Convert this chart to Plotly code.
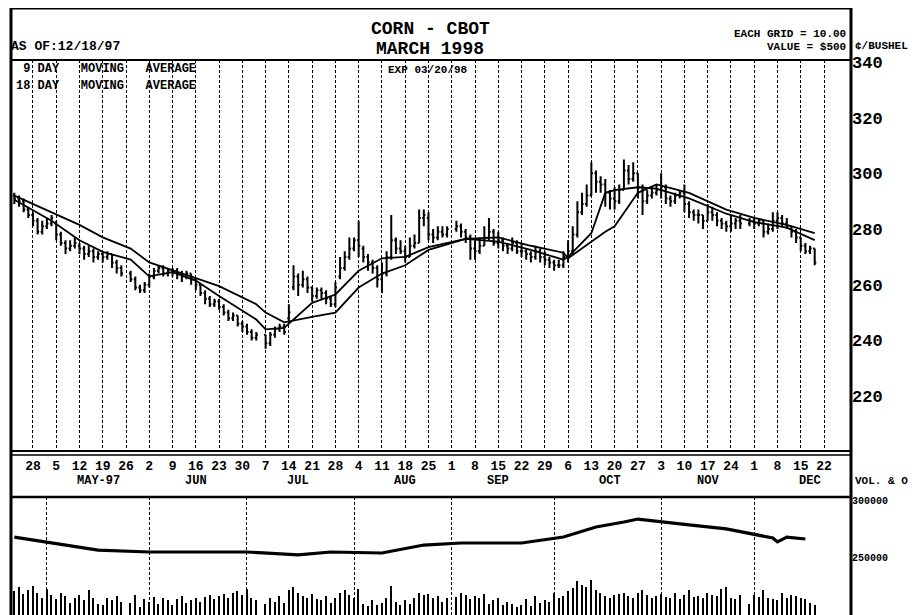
import plotly.graph_objects as go

# ---------------- data ----------------
dates = [
    "1997-04-22", "1997-04-23", "1997-04-24", "1997-04-25",
    "1997-04-28", "1997-04-29", "1997-04-30", "1997-05-01", "1997-05-02",
    "1997-05-05", "1997-05-06", "1997-05-07", "1997-05-08", "1997-05-09",
    "1997-05-12", "1997-05-13", "1997-05-14", "1997-05-15", "1997-05-16",
    "1997-05-19", "1997-05-20", "1997-05-21", "1997-05-22", "1997-05-23",
    "1997-05-27", "1997-05-28", "1997-05-29", "1997-05-30",
    "1997-06-02", "1997-06-03", "1997-06-04", "1997-06-05", "1997-06-06",
    "1997-06-09", "1997-06-10", "1997-06-11", "1997-06-12", "1997-06-13",
    "1997-06-16", "1997-06-17", "1997-06-18", "1997-06-19", "1997-06-20",
    "1997-06-23", "1997-06-24", "1997-06-25", "1997-06-26", "1997-06-27",
    "1997-06-30", "1997-07-01", "1997-07-02", "1997-07-03",
    "1997-07-07", "1997-07-08", "1997-07-09", "1997-07-10", "1997-07-11",
    "1997-07-14", "1997-07-15", "1997-07-16", "1997-07-17", "1997-07-18",
    "1997-07-21", "1997-07-22", "1997-07-23", "1997-07-24", "1997-07-25",
    "1997-07-28", "1997-07-29", "1997-07-30", "1997-07-31", "1997-08-01",
    "1997-08-04", "1997-08-05", "1997-08-06", "1997-08-07", "1997-08-08",
    "1997-08-11", "1997-08-12", "1997-08-13", "1997-08-14", "1997-08-15",
    "1997-08-18", "1997-08-19", "1997-08-20", "1997-08-21", "1997-08-22",
    "1997-08-25", "1997-08-26", "1997-08-27", "1997-08-28", "1997-08-29",
    "1997-09-02", "1997-09-03", "1997-09-04", "1997-09-05",
    "1997-09-08", "1997-09-09", "1997-09-10", "1997-09-11", "1997-09-12",
    "1997-09-15", "1997-09-16", "1997-09-17", "1997-09-18", "1997-09-19",
    "1997-09-22", "1997-09-23", "1997-09-24", "1997-09-25", "1997-09-26",
    "1997-09-29", "1997-09-30", "1997-10-01", "1997-10-02", "1997-10-03",
    "1997-10-06", "1997-10-07", "1997-10-08", "1997-10-09", "1997-10-10",
    "1997-10-13", "1997-10-14", "1997-10-15", "1997-10-16", "1997-10-17",
    "1997-10-20", "1997-10-21", "1997-10-22", "1997-10-23", "1997-10-24",
    "1997-10-27", "1997-10-28", "1997-10-29", "1997-10-30", "1997-10-31",
    "1997-11-03", "1997-11-04", "1997-11-05", "1997-11-06", "1997-11-07",
    "1997-11-10", "1997-11-11", "1997-11-12", "1997-11-13", "1997-11-14",
    "1997-11-17", "1997-11-18", "1997-11-19", "1997-11-20", "1997-11-21",
    "1997-11-24", "1997-11-25", "1997-11-26", "1997-11-28",
    "1997-12-01", "1997-12-02", "1997-12-03", "1997-12-04", "1997-12-05",
    "1997-12-08", "1997-12-09", "1997-12-10", "1997-12-11", "1997-12-12",
    "1997-12-15", "1997-12-16", "1997-12-17", "1997-12-18",
]

opens = [
    292, 291, 290, 287,
    285, 283, 279, 281, 282,
    282, 278, 275, 273, 274,
    274, 273, 271, 272, 270,
    271, 270, 271, 268, 266,
    264, 262, 259, 258,
    260, 263, 265, 266, 264,
    265, 265, 264, 263, 264,
    262, 260, 257, 255, 253,
    254, 252, 250, 248, 249,
    246, 245, 243, 241,
    242, 239, 242, 244, 245,
    248, 259, 263, 260, 262,
    259, 256, 258, 257, 255,
    253, 263, 266, 270, 273,
    276, 273, 270, 268, 266,
    262, 264, 270, 276, 273,
    272, 270, 274, 275, 284,
    284, 278, 277, 279, 278,
    280, 281, 279, 277,
    273, 272, 274, 277, 279,
    275, 276, 274, 273, 275,
    272, 272, 271, 270, 272,
    270, 269, 268, 267, 267,
    270, 272, 278, 286, 289,
    292, 300, 297, 296, 293,
    291, 290, 294, 301, 298,
    300, 295, 290, 292, 293,
    294, 295, 291, 290, 292,
    293, 289, 286, 285, 285,
    283, 286, 285, 283, 282,
    281, 282, 283, 282,
    283, 282, 283, 279, 280,
    283, 284, 282, 281, 279,
    277, 274, 272, 273,
]

highs = [
    293, 292, 291, 288,
    286, 284, 283, 284, 285,
    283, 279, 276, 276, 277,
    275, 274, 274, 273, 272,
    272, 272, 271, 269, 267,
    265, 263, 260, 261,
    264, 266, 267, 267, 266,
    266, 266, 265, 265, 264,
    262, 260, 258, 256, 255,
    255, 253, 251, 250, 249,
    247, 246, 244, 243,
    242, 243, 245, 246, 246,
    253, 267, 264, 265, 263,
    259, 259, 259, 258, 256,
    261, 270, 272, 277, 277,
    283, 274, 271, 269, 267,
    268, 272, 285, 277, 276,
    274, 277, 278, 287, 287,
    286, 280, 281, 281, 281,
    283, 282, 280, 278,
    276, 277, 281, 284, 280,
    279, 277, 275, 277, 276,
    275, 273, 272, 274, 273,
    272, 270, 269, 269, 272,
    276, 281, 290, 293, 296,
    304, 301, 299, 298, 294,
    295, 296, 305, 303, 304,
    300, 296, 294, 295, 296,
    300, 296, 292, 293, 294,
    296, 290, 287, 287, 285,
    289, 288, 286, 284, 283,
    285, 284, 285, 284,
    284, 284, 283, 282, 286,
    286, 285, 284, 281, 280,
    277, 275, 274, 273,
]

lows = [
    289, 288, 286, 284,
    281, 278, 278, 280, 281,
    276, 274, 271, 272, 273,
    271, 269, 270, 268, 269,
    268, 269, 266, 264, 263,
    261, 258, 257, 257,
    259, 262, 264, 263, 263,
    263, 262, 261, 262, 260,
    258, 256, 253, 252, 252,
    251, 249, 247, 247, 245,
    243, 242, 240, 240,
    237, 238, 241, 243, 242,
    246, 258, 256, 259, 257,
    254, 255, 255, 253, 252,
    252, 262, 265, 269, 272,
    270, 268, 265, 264, 259,
    257, 263, 269, 271, 271,
    268, 270, 273, 275, 281,
    276, 275, 276, 277, 277,
    279, 277, 275, 269,
    269, 271, 274, 276, 274,
    273, 272, 271, 272, 271,
    270, 269, 268, 269, 268,
    267, 266, 265, 266, 266,
    268, 271, 277, 285, 288,
    292, 293, 293, 288, 287,
    287, 289, 294, 296, 297,
    291, 285, 289, 291, 292,
    291, 289, 288, 289, 291,
    286, 284, 283, 282, 280,
    283, 283, 281, 280, 279,
    279, 280, 280, 281,
    280, 281, 277, 278, 279,
    280, 281, 280, 277, 275,
    272, 271, 271, 267,
]

closes = [
    291, 290, 287, 285,
    283, 279, 281, 282, 284,
    278, 275, 273, 274, 275,
    273, 271, 272, 270, 271,
    270, 271, 268, 266, 264,
    262, 259, 258, 260,
    263, 265, 266, 264, 265,
    265, 264, 263, 264, 262,
    260, 257, 255, 253, 254,
    252, 250, 248, 249, 246,
    245, 243, 241, 242,
    239, 242, 244, 245, 243,
    250, 263, 260, 262, 259,
    256, 258, 257, 255, 253,
    259, 266, 270, 273, 276,
    274, 270, 268, 266, 262,
    264, 270, 276, 273, 272,
    270, 274, 275, 284, 285,
    278, 277, 279, 278, 280,
    281, 279, 277, 273,
    272, 274, 277, 279, 275,
    276, 274, 273, 275, 272,
    272, 271, 270, 272, 270,
    269, 268, 267, 267, 270,
    272, 278, 286, 289, 292,
    300, 297, 296, 293, 291,
    290, 294, 301, 298, 300,
    295, 290, 292, 293, 294,
    295, 291, 290, 292, 293,
    289, 286, 285, 285, 283,
    286, 285, 283, 282, 281,
    282, 283, 282, 283,
    282, 283, 279, 280, 283,
    284, 282, 281, 279, 277,
    274, 272, 273, 268,
]

volumes = [
    42000, 50000, 38000, 45000,
    52000, 40000, 30000, 46000, 35000,
    28000, 40000, 33000, 22000, 30000,
    36000, 26000, 44000, 30000, 20000,
    18000, 30000, 26000, 34000, 24000,
    22000, 36000, 15000, 28000,
    24000, 32000, 20000, 30000, 26000,
    18000, 28000, 34000, 22000, 26000,
    30000, 24000, 32000, 36000, 28000,
    34000, 38000, 30000, 40000, 42000,
    36000, 46000, 30000, 26000,
    20000, 30000, 24000, 34000, 22000,
    44000, 50000, 40000, 34000, 30000,
    38000, 28000, 26000, 34000, 22000,
    30000, 40000, 44000, 36000, 30000,
    46000, 20000, 16000, 26000, 18000,
    22000, 30000, 52000, 24000, 18000,
    26000, 20000, 30000, 40000, 36000,
    38000, 30000, 34000, 24000, 30000,
    32000, 40000, 36000, 28000,
    34000, 30000, 38000, 20000, 26000,
    30000, 18000, 24000, 20000, 14000,
    18000, 28000, 16000, 34000, 22000,
    26000, 24000, 40000, 30000, 34000,
    42000, 48000, 60000, 54000, 50000,
    62000, 44000, 40000, 34000, 30000,
    36000, 38000, 40000, 34000, 30000,
    40000, 44000, 36000, 30000, 34000,
    38000, 32000, 30000, 40000, 28000,
    36000, 44000, 32000, 34000, 30000,
    40000, 36000, 34000, 46000, 50000,
    30000, 28000, 36000, 20000,
    36000, 32000, 44000, 30000, 28000,
    26000, 40000, 30000, 36000, 34000,
    30000, 28000, 22000, 18000,
]

# moving averages at selected dates
ma_dates = ["1997-04-22", "1997-05-02", "1997-05-12", "1997-05-19", "1997-05-27",
            "1997-06-02", "1997-06-09", "1997-06-16", "1997-06-23", "1997-07-03",
            "1997-07-07", "1997-07-11", "1997-07-21", "1997-07-28", "1997-08-04",
            "1997-08-11", "1997-08-18", "1997-08-25", "1997-09-04", "1997-09-15",
            "1997-09-24", "1997-10-03", "1997-10-06", "1997-10-13", "1997-10-16",
            "1997-10-20", "1997-10-27", "1997-10-31", "1997-11-11", "1997-11-21",
            "1997-12-01", "1997-12-10", "1997-12-18"]
ma9 = [290.5, 283, 276, 271.8, 269,
       263, 264.5, 261.5, 256, 247.5,
       244, 244.5, 253.5, 256.5, 265,
       269.5, 270, 273.5, 276.5, 275.5,
       272.5, 269, 270, 278.5, 293,
       294, 295, 294.5, 291, 285.5,
       282.5, 280.5, 276]
ma18 = [292, 286, 281.5, 277, 273,
        268, 265.3, 262.4, 259.5, 253,
        250, 246.5, 248.5, 250, 259,
        264, 267, 272.5, 276.5, 277,
        274, 271.5, 269.5, 275.5, 279,
        281, 293, 296, 293, 287,
        284, 281.5, 278.5]

# open interest
oi_dates = ["1997-04-22", "1997-05-02", "1997-05-16", "1997-06-02", "1997-07-01",
            "1997-07-16", "1997-07-25", "1997-08-11", "1997-08-22", "1997-09-03",
            "1997-09-22", "1997-10-03", "1997-10-14", "1997-10-22", "1997-10-27",
            "1997-11-11", "1997-11-21", "1997-12-05", "1997-12-08", "1997-12-10",
            "1997-12-16"]
open_interest = [267500, 262300, 256100, 254400, 254400,
                 251800, 254400, 253500, 260500, 262300,
                 262300, 267500, 276300, 280700, 283300,
                 278100, 274600, 266700, 263200, 267500,
                 265800]

week_ticks = ["1997-04-28", "1997-05-05", "1997-05-12", "1997-05-19", "1997-05-26",
              "1997-06-02", "1997-06-09", "1997-06-16", "1997-06-23", "1997-06-30",
              "1997-07-07", "1997-07-14", "1997-07-21", "1997-07-28", "1997-08-04",
              "1997-08-11", "1997-08-18", "1997-08-25", "1997-09-01", "1997-09-08",
              "1997-09-15", "1997-09-22", "1997-09-29", "1997-10-06", "1997-10-13",
              "1997-10-20", "1997-10-27", "1997-11-03", "1997-11-10", "1997-11-17",
              "1997-11-24", "1997-12-01", "1997-12-08", "1997-12-15", "1997-12-22"]
week_labels = ["28", "5", "12", "19", "26", "2", "9", "16", "23", "30", "7", "14",
               "21", "28", "4", "11", "18", "25", "1", "8", "15", "22", "29", "6",
               "13", "20", "27", "3", "10", "17", "24", "1", "8", "15", "22"]
month_labels = ["MAY-97", "JUN", "JUL", "AUG", "SEP", "OCT", "NOV", "DEC"]
month_pos = ["1997-05-16", "1997-06-16", "1997-07-16", "1997-08-18",
             "1997-09-15", "1997-10-17", "1997-11-17", "1997-12-17"]
price_ticks = [220, 240, 260, 280, 300, 320, 340]
oi_ticks = [250000, 300000]

# ---------------- figure ----------------
FONT = "Liberation Mono"
OFF = 8                      # the page places the figure 8px in from the corner
W, H = 916 - OFF, 615 - OFF
ML, MR, MT, MB = 12 - OFF, 65, 60 - OFF, 0
PW, PH = W - ML - MR, H - MT - MB


def px_x(X):
    """page pixel -> paper x"""
    return (X - OFF - ML) / PW


def px_y(Y):
    """page pixel -> paper y"""
    return (H - MB - (Y - OFF)) / PH


fig = go.Figure()

fig.add_trace(go.Ohlc(
    x=dates, open=opens, high=highs, low=lows, close=closes,
    increasing=dict(line=dict(color="black", width=2)),
    decreasing=dict(line=dict(color="black", width=2)),
    tickwidth=0.35, xaxis="x", yaxis="y", showlegend=False, hoverinfo="skip"))

fig.add_trace(go.Scatter(x=ma_dates, y=ma9, mode="lines",
                         line=dict(color="black", width=1.8),
                         xaxis="x", yaxis="y", showlegend=False))
fig.add_trace(go.Scatter(x=ma_dates, y=ma18, mode="lines",
                         line=dict(color="black", width=1.8),
                         xaxis="x", yaxis="y", showlegend=False))

fig.add_trace(go.Bar(x=dates, y=volumes, marker=dict(color="black", line=dict(width=0)),
                     width=0.3 * 86400000, xaxis="x2", yaxis="y3", showlegend=False))
fig.add_trace(go.Scatter(x=oi_dates, y=open_interest, mode="lines",
                         line=dict(color="black", width=3.2),
                         xaxis="x2", yaxis="y2", showlegend=False))

x_range = ["1997-04-21 12:00", "1997-12-29 19:12"]
rb = [dict(bounds=["sat", "mon"])]
grid = dict(showgrid=True, gridcolor="black", gridwidth=1, griddash="3px,2px")

price_bottom = px_y(451)
vol_top = px_y(497)

fig.update_layout(
    width=W, height=H,
    margin=dict(l=ML, r=MR, t=MT, b=MB, autoexpand=False),
    paper_bgcolor="white", plot_bgcolor="white",
    font=dict(family=FONT, color="black", weight="bold"),
    bargap=0,
    xaxis=dict(type="date", range=x_range, rangebreaks=rb, domain=[0, 1], anchor="y",
               tickmode="array", tickvals=week_ticks, ticktext=week_labels,
               tickfont=dict(family=FONT, size=13, weight="bold"), ticks="",
               ticklabelstandoff=5,
               showline=False, zeroline=False, rangeslider=dict(visible=False),
               **grid),
    yaxis=dict(domain=[price_bottom, 1], range=[200.3, 340.7], side="right",
               anchor="x", tickmode="array", tickvals=price_ticks,
               tickfont=dict(family=FONT, size=17, weight="bold"),
               showgrid=False, zeroline=False, ticks="", showline=False),
    xaxis2=dict(type="date", range=x_range, rangebreaks=rb, domain=[0, 1], anchor="y2",
                matches="x", showticklabels=False, ticks="", showline=False,
                zeroline=False, **grid),
    yaxis2=dict(domain=[0, vol_top], range=[199120, 302630], side="right",
                anchor="x2", tickmode="array", tickvals=oi_ticks,
                ticktext=[str(v) for v in oi_ticks],
                tickfont=dict(family=FONT, size=10, weight="bold"),
                showgrid=False, zeroline=False, ticks="", showline=False),
    yaxis3=dict(overlaying="y2", range=[0, 210000], visible=False, side="left"),
)

LW = "black"


def hline(Y, X0, X1, w):
    return dict(type="line", xref="paper", yref="paper", x0=px_x(X0), x1=px_x(X1),
                y0=px_y(Y), y1=px_y(Y), line=dict(color=LW, width=w))


def vline(X, Y0, Y1, w):
    return dict(type="line", xref="paper", yref="paper", x0=px_x(X), x1=px_x(X),
                y0=px_y(Y0), y1=px_y(Y1), line=dict(color=LW, width=w))


shapes = [
    vline(11, 8, 615, 3),
    vline(851, 8, 615, 3),
    hline(8, 10, 852, 3),
    hline(60, 10, 852, 2),
    hline(451, 10, 852, 2),
    hline(455, 10, 852, 1.5),
    hline(497, 10, 852, 2.5),
]
fig.update_layout(shapes=shapes)

NB = "\u00a0"


def ann(text, X, Y, size, xanchor="left"):
    fig.add_annotation(text=text, xref="paper", yref="paper", x=px_x(X), y=px_y(Y),
                       xanchor=xanchor, yanchor="middle", showarrow=False,
                       font=dict(family=FONT, size=size, color="black", weight="bold"))


ann("CORN - CBOT", 430, 29, 18, "center")
ann("MARCH 1998", 430, 49, 18, "center")
ann("AS OF:12/18/97", 9, 46, 13)
ann("EACH GRID = 10.00", 848, 34, 11, "right")
ann("VALUE = $500", 848, 47, 11, "right")
ann("¢/BUSHEL", 853, 46, 11)
ann((NB + "9 DAY" + NB * 3 + "MOVING" + NB * 3 + "AVERAGE"), 14, 69, 12)
ann(("18 DAY" + NB * 3 + "MOVING" + NB * 3 + "AVERAGE"), 14, 86, 12)
ann("EXP 03/20/98", 386, 70, 11)
ann("VOL. & O.", 853, 481, 11)

for lab, pos in zip(month_labels, month_pos):
    fig.add_annotation(text=lab, xref="x", yref="paper", x=pos, y=px_y(481),
                       xanchor="center", yanchor="middle", showarrow=False,
                       font=dict(family=FONT, size=12, color="black", weight="bold"))

fig.write_html("out.html")
